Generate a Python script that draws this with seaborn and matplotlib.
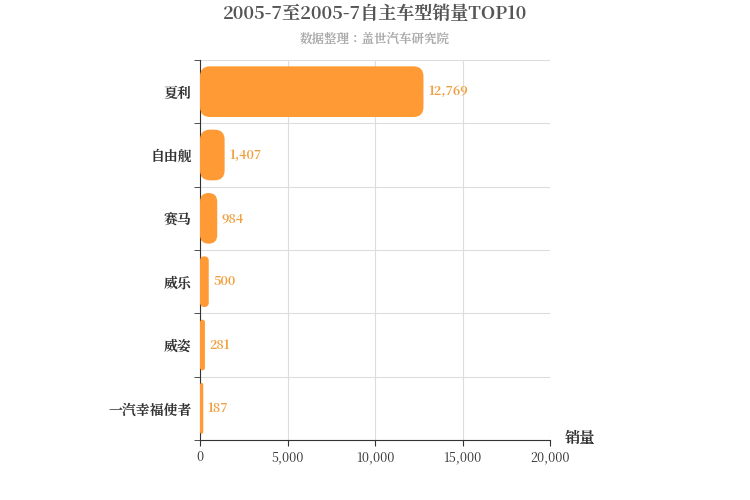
import matplotlib
matplotlib.use("Agg")
import matplotlib.pyplot as plt
from matplotlib import font_manager as fm
import seaborn as sns
import pandas as pd
from matplotlib.patches import FancyBboxPatch

cjk = [f for f in fm.findSystemFonts() if "CJK" in f or "cjk" in f.lower()]
cjk.sort(key=lambda f: (("Bold" not in f and "Regular" not in f), "SC" not in f))
fam = []
for f in cjk:
    try:
        fm.fontManager.addfont(f)
        fam.append(fm.FontProperties(fname=f).get_name())
    except Exception:
        pass
plt.rcParams["font.family"] = "sans-serif"
plt.rcParams["font.sans-serif"] = list(dict.fromkeys(fam + ["Noto Sans CJK SC", "Noto Sans CJK JP", "DejaVu Sans"]))

models = ["夏利", "自由舰", "赛马", "威乐", "威姿", "一汽幸福使者"]
sales = [12769, 1407, 984, 500, 281, 187]
xticks = [0, 5000, 10000, 15000, 20000]

df = pd.DataFrame({"model": models, "sales": sales})
fig = plt.figure(figsize=(7.5, 5), dpi=100)
ax = fig.add_axes([200/750, 60/500, 350/750, 380/500])
sns.barplot(data=df, y="model", x="sales", color="#ff9a35", width=0.8, ax=ax, saturation=1)
ax.set_xlim(0, 20000)
ax.set_ylim(5.5, -0.5)

ux = 20000/350; uy = 6/380
for p in list(ax.patches):
    x, y = p.get_x(), p.get_y()
    w, h = p.get_width(), p.get_height()
    r = min(10*ux, w/2)
    fb = FancyBboxPatch((x, y), w, h, boxstyle=f"round,pad=0,rounding_size={r}",
                        mutation_aspect=uy/ux, fc="#ff9a35", ec="none", zorder=3)
    p.remove()
    ax.add_patch(fb)

for i, v in enumerate(sales):
    ax.text(v + 250, i, f"{v:,}", va="center", ha="left", color="#f0a040", fontsize=9, fontweight="bold")

ax.set_xticks(xticks)
ax.set_xticklabels([f"{t:,}" for t in xticks], fontsize=9, color="#333")
ax.set_yticks(range(6))
ax.set_yticklabels(models, fontsize=10, fontweight="bold", color="#333")
ax.set_yticks([i - 0.5 for i in range(7)], minor=True)
ax.grid(False)
for t in xticks:
    ax.axvline(t, color="#dddddd", lw=0.8, zorder=0)
for i in range(7):
    ax.axhline(i - 0.5, color="#dddddd", lw=0.8, zorder=0)
ax.tick_params(axis="y", which="major", length=0, pad=6)
ax.tick_params(axis="y", which="minor", length=4, color="#333")
ax.tick_params(axis="x", length=4, color="#333")
for s in ["top", "right"]:
    ax.spines[s].set_visible(False)
ax.spines["left"].set_color("#333")
ax.spines["bottom"].set_color("#333")
ax.set_xlabel(""); ax.set_ylabel("")
fig.text(580/750, 1 - 438/500, "销量", fontsize=11, fontweight="bold", color="#333", ha="center", va="center")
fig.text(375/750, 1 - 14/500, "2005-7至2005-7自主车型销量TOP10", fontsize=13, fontweight="bold", color="#555", ha="center", va="center")
fig.text(375/750, 1 - 39/500, "数据整理：盖世汽车研究院", fontsize=9, fontweight="bold", color="#aaa", ha="center", va="center")
fig.savefig("out.png", dpi=100)
